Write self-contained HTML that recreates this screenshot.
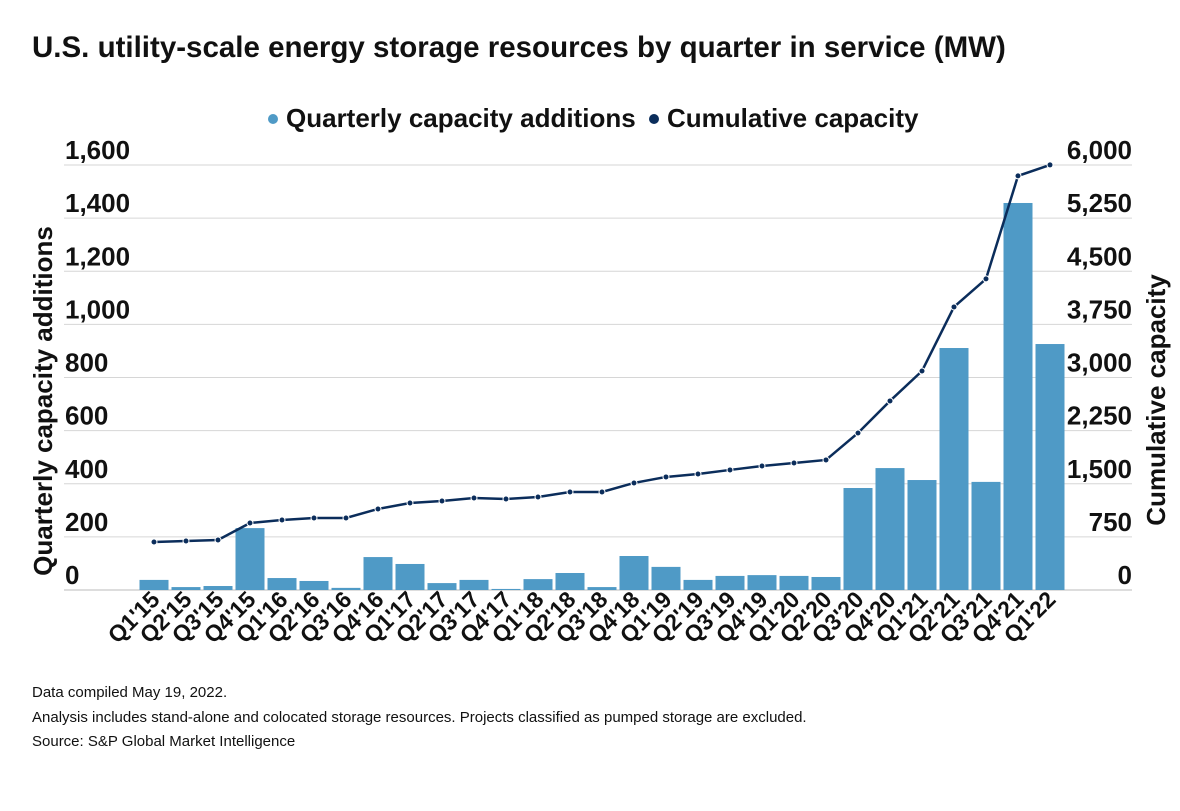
<!DOCTYPE html>
<html><head><meta charset="utf-8"><style>
body{margin:0;background:#fff;font-family:"Liberation Sans",sans-serif}
svg text{font-family:"Liberation Sans",sans-serif}
</style></head><body>
<svg id="c" width="1180" height="806">
<text x="32" y="57" font-size="29.5" font-weight="bold" fill="#111">U.S. utility-scale energy storage resources by quarter in service (MW)</text>
<g>
<circle cx="273" cy="119" r="5" fill="#4f9ac6"/>
<text x="286" y="127" font-size="26" font-weight="bold" fill="#111">Quarterly capacity additions</text>
<circle cx="654" cy="119" r="5" fill="#0b2d5b"/>
<text x="667" y="127" font-size="26" font-weight="bold" fill="#111">Cumulative capacity</text>
</g>
<text transform="translate(52,401) rotate(-90)" text-anchor="middle" font-size="26" font-weight="bold" fill="#111">Quarterly capacity additions</text>
<text transform="translate(1165,400) rotate(-90)" text-anchor="middle" font-size="26" font-weight="bold" fill="#111">Cumulative capacity</text>
<g id="plot"></g>
<g font-size="15" fill="#111">
<text x="32" y="697">Data compiled May 19, 2022.</text>
<text x="32" y="722">Analysis includes stand-alone and colocated storage resources. Projects classified as pumped storage are excluded.</text>
<text x="32" y="746">Source: S&amp;P Global Market Intelligence</text>
</g>
</svg>
<script>
const categories=["Q1'15","Q2'15","Q3'15","Q4'15","Q1'16","Q2'16","Q3'16","Q4'16","Q1'17","Q2'17","Q3'17","Q4'17","Q1'18","Q2'18","Q3'18","Q4'18","Q1'19","Q2'19","Q3'19","Q4'19","Q1'20","Q2'20","Q3'20","Q4'20","Q1'21","Q2'21","Q3'21","Q4'21","Q1'22"];
const additions=[38,11,15,233,45,34,8,124,98,26,38,4,41,64,11,128,87,38,53,56,53,49,384,459,414,911,407,1457,926];
const cumulative=[678,692,706,946,988,1017,1017,1144,1228,1257,1299,1285,1313,1384,1384,1511,1596,1638,1695,1751,1793,1836,2217,2669,3092,3996,4392,5846,6001];
const leftTicks=[0,200,400,600,800,1000,1200,1400,1600];
const rightTicks=[0,750,1500,2250,3000,3750,4500,5250,6000];
const NS="http://www.w3.org/2000/svg";
const g=document.getElementById('plot');
const y0=590,y1=165,x0=138,step=32;
const yL=v=>y0-(v/1600)*(y0-y1);
const yR=v=>y0-(v/6000)*(y0-y1);
const xC=i=>x0+step*i+16;
function mk(t,a){const e=document.createElementNS(NS,t);for(const k in a)e.setAttribute(k,a[k]);g.appendChild(e);return e;}
leftTicks.forEach((v,i)=>{
 const l=mk('line',{x1:64,x2:1132,y1:yL(v),y2:yL(v),stroke:v===0?'#bbb':'#d6d6d6','stroke-width':1});
 
 
 const t=mk('text',{x:65,y:yL(v)-6,'text-anchor':'start','font-size':26,'font-weight':'bold',fill:'#111'});
 t.textContent=v.toLocaleString('en-US');
 
 
});
rightTicks.forEach(v=>{
 const t=mk('text',{x:1132,y:yR(v)-6,'text-anchor':'end','font-size':26,'font-weight':'bold',fill:'#111'});
 t.textContent=v.toLocaleString('en-US');
 
 
});
additions.forEach((v,i)=>{
 const r=mk('rect',{x:xC(i)-14.5,y:yL(v),width:29,height:y0-yL(v),fill:'#4f9ac6'});
 
 
 const t=mk('text',{transform:`translate(${xC(i)+7},${601}) rotate(-45)`,'text-anchor':'end','font-size':23,'font-weight':'bold',fill:'#111'});
 t.textContent=categories[i];
 
 
});
const p=mk('polyline',{points:cumulative.map((v,i)=>xC(i)+','+yR(v)).join(' '),fill:'none',stroke:'#0b2d5b','stroke-width':2.5});


cumulative.forEach((v,i)=>{
 const c=mk('circle',{cx:xC(i),cy:yR(v),r:3,fill:'#0b2d5b',stroke:'#fff','stroke-width':1});
 
 
});
</script>
</body></html>
